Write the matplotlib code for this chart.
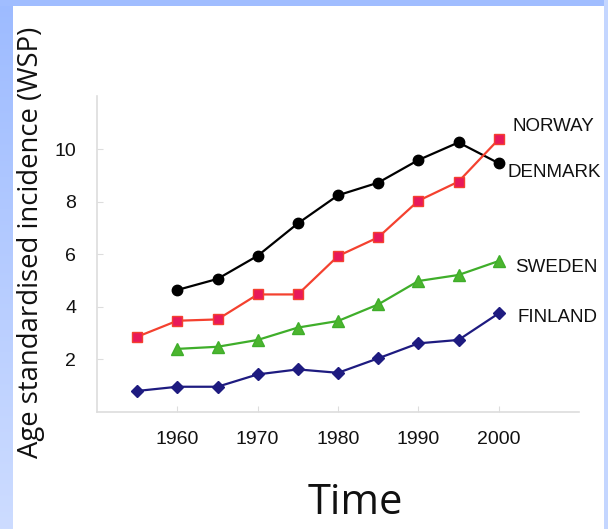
import numpy as np
import matplotlib
matplotlib.use("Agg")
import matplotlib.pyplot as plt
from matplotlib.patches import Rectangle

# data
years_long = [1955, 1960, 1965, 1970, 1975, 1980, 1985, 1990, 1995, 2000]
years_short = [1960, 1965, 1970, 1975, 1980, 1985, 1990, 1995, 2000]

denmark = [4.64, 5.06, 5.94, 7.17, 8.24, 8.72, 9.58, 10.25, 9.46]
norway = [2.86, 3.47, 3.52, 4.47, 4.47, 5.93, 6.64, 8.03, 8.76, 10.37]
sweden = [2.40, 2.48, 2.74, 3.21, 3.46, 4.09, 4.98, 5.21, 5.74]
finland = [0.80, 0.96, 0.96, 1.43, 1.62, 1.49, 2.04, 2.61, 2.74, 3.75]

labels = ["NORWAY", "DENMARK", "SWEDEN", "FINLAND"]
label_x = [2001.7, 2001.1, 2002.1, 2002.4]
label_y = [10.84, 9.09, 5.51, 3.61]

xticks = [1960, 1970, 1980, 1990, 2000]
yticks = [2, 4, 6, 8, 10]

W, H = 608, 529
fig = plt.figure(figsize=(W / 100, H / 100), dpi=100)
fig.patch.set_facecolor("white")

# blue slide frame: gradient on the left, flat strips top and right
bg = fig.add_axes([0, 0, 1, 1], zorder=-5)
bg.set_xlim(0, W)
bg.set_ylim(H, 0)
bg.axis("off")
grad = np.linspace(0, 1, 256).reshape(-1, 1)
left_cmap = matplotlib.colors.LinearSegmentedColormap.from_list("lb", ["#9dbbff", "#cddcff"])
bg.imshow(grad, cmap=left_cmap, extent=[0, 13, H, 0], aspect="auto")
bg.add_patch(Rectangle((0, 0), W, 6, color="#a0bdff", lw=0))
bg.add_patch(Rectangle((604, 0), 4, H, color="#c4d6ff", lw=0))

ax = fig.add_axes([97 / W, 1 - 412 / H, (579 - 97) / W, (412 - 96.4) / H])
ax.set_facecolor("none")

ax.plot(years_short, denmark, color="black", lw=1.6, marker="o", ms=7.5,
        mfc="black", mec="black")
ax.plot(years_long, norway, color="#f4412f", lw=1.6, marker="s", ms=7,
        mfc="#e8195a", mec="#f4412f", mew=1)
ax.plot(years_short, sweden, color="#3fae2a", lw=1.6, marker="^", ms=9,
        mfc="#4cb52f", mec="#3fae2a")
ax.plot(years_long, finland, color="#1e1b80", lw=1.6, marker="D", ms=6.5,
        mfc="#1e1b80", mec="#1e1b80")

for txt, lx, ly in zip(labels, label_x, label_y):
    ax.text(lx, ly, txt, fontsize=13.5, family="Liberation Sans",
            va="center", ha="left", color="#111111", clip_on=False)

ax.set_xlim(1950, 2010)
ax.set_ylim(0, 12)
ax.set_xticks(xticks)
ax.set_yticks(yticks)
ax.tick_params(direction="in", length=4, color="#dddddd", labelsize=14,
               labelcolor="#111111")
ax.tick_params(axis="x", pad=14)
ax.tick_params(axis="y", pad=15)
for lbl in ax.get_xticklabels() + ax.get_yticklabels():
    lbl.set_family("Liberation Sans")
for side in ["top", "right"]:
    ax.spines[side].set_visible(False)
for side in ["left", "bottom"]:
    ax.spines[side].set_color("#dddddd")
    ax.spines[side].set_linewidth(1.2)

fig.text(355 / W, 1 - 503 / H, "Time", fontsize=30, family="Open Sans",
         ha="center", va="center", color="#111111")
fig.text(31 / W, 1 - 458 / H, "Age standardised incidence (WSP)", fontsize=19.8,
         family="Open Sans", rotation=90, ha="center", va="bottom",
         color="#111111")

fig.savefig("out.png", dpi=100)
